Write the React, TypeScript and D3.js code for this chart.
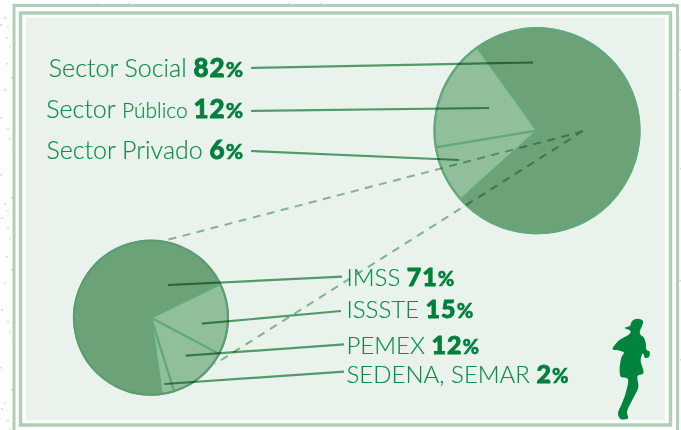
import * as d3 from "d3";
import React from "react";

const WIDTH = 681;
const HEIGHT = 430;

// labels printed on the chart
const sectorNames = ["Sector Social", "Sector Público", "Sector Privado"];
const sectorPercents = [82, 12, 6];
const institutionNames = ["IMSS", "ISSSTE", "PEMEX", "SEDENA, SEMAR"];
const institutionPercents = [71, 15, 12, 2];

// share of the circle each slice really takes in the picture
const sectorSlices = [73.2, 17.7, 9.1];
const institutionSlices = [70, 15, 12.4, 2.6];

// runner outline, traced at 3x
const runnerOutline: [number, number][] = [
  [104, 28], [118, 27], [129, 33], [127, 46], [121, 60], [120, 72], [131, 82], [137, 98], [140, 120],
  [149, 125], [146, 142], [135, 143], [129, 130], [122, 150], [130, 190], [113, 198], [115, 232],
  [98, 268], [81, 306], [84, 325], [62, 327], [54, 312], [66, 280], [78, 246], [83, 206], [63, 201],
  [59, 180], [65, 140], [72, 128], [60, 122], [38, 118], [50, 98], [68, 84], [85, 75], [92, 66],
  [88, 60], [74, 54], [90, 47], [95, 35],
];

// little grey flecks of the scan, outside the frame
const flecks: [number, number][] = [
  [97, 3], [128, 3], [288, 3], [320, 3], [672, 3], [4, 17], [0, 24], [7, 26], [6, 37], [9, 46], [6, 63],
  [11, 77], [4, 89], [0, 117], [7, 128], [9, 138], [12, 150], [0, 174], [11, 197], [4, 203], [7, 210],
  [1, 217], [7, 227], [9, 238], [6, 256], [11, 269], [4, 282], [1, 309], [7, 321], [9, 331], [12, 342],
  [13, 353], [0, 367], [11, 389], [4, 402], [1, 408], [7, 420], [9, 429], [679, 49], [679, 89], [680, 168],
  [679, 280], [680, 359],
];

const rad = (deg: number) => (deg * Math.PI) / 180;

const GREEN_TEXT = "#0f8c4a";
const GREEN_BOLD = "#007f3c";
const BIG_FILL = "#6ba277";
const LIGHT_FILL = "#92bf9b";
const SLICE_STROKE = "#62a87c";
const FRAME = "#aecfb3";

const labelFont = "Lato, 'Open Sans', sans-serif";

function Pie({ shares, cx, cy, r, start, end, edge }: { shares: number[]; cx: number; cy: number; r: number; start: number; end: number; edge: string }) {
  const slices = d3.pie<number>().sort(null).startAngle(rad(start)).endAngle(rad(end))(shares);
  const arc = d3.arc<d3.PieArcDatum<number>>().innerRadius(0).outerRadius(r);
  return (
    <g transform={`translate(${cx},${cy})`}>
      {slices.map((s, i) => (
        <path key={i} d={arc(s) ?? ""} fill={i === 0 ? BIG_FILL : LIGHT_FILL} stroke={SLICE_STROKE} strokeWidth={2.2} strokeLinejoin="round" />
      ))}
      <circle r={r} fill="none" stroke={edge} strokeWidth={2} />
    </g>
  );
}

function Label({ name, pct, x, y, anchor, size }: { name: string; pct: number; x: number; y: number; anchor: string; size: number }) {
  const bold = { fontWeight: 900, fill: GREEN_BOLD, stroke: GREEN_BOLD, strokeWidth: 0.8 };
  return (
    <text x={x} y={y} textAnchor={anchor} fontFamily={labelFont} fontSize={size} fill={GREEN_TEXT} fontWeight={300} stroke={GREEN_TEXT} strokeWidth={0.15}>
      {name.split(" ").map((w, i) => (
        <tspan key={i} fontSize={w === "Público" ? size - 4 : size}>{w + " "}</tspan>
      ))}
      <tspan {...bold} fontSize={size + 1} letterSpacing={1}>{pct}</tspan>
      <tspan {...bold} fontSize={size - 4} strokeWidth={0.5}>%</tspan>
    </text>
  );
}

export default function App() {
  const runnerPath = d3.line().curve(d3.curveCatmullRomClosed.alpha(0.5))(runnerOutline) ?? "";

  // leader lines, from the label to the slice
  const sectorLeaders = [
    [251, 68, 533, 62.5],
    [251, 111, 489, 108],
    [251, 151, 459, 160],
  ];
  const institutionLeaders = [
    [342, 276.7, 168, 285],
    [341, 311, 201.7, 323.7],
    [344, 344.3, 185.7, 355.7],
    [344, 371.7, 164.3, 384],
  ];
  const sectorBaselines = [77, 118, 159];
  const institutionBaselines = [285.7, 318, 353.7, 382.7];

  return (
    <svg width={WIDTH} height={HEIGHT} style={{ position: "absolute", left: 0, top: 0, background: "#fff" }}>
      {flecks.map(([x, y], i) => (
        <rect key={i} x={x} y={y} width={2} height={1.5} fill="#d9d9d9" />
      ))}

      {/* frame */}
      <path d={`M14,${HEIGHT} V5.5 H677.5 V${HEIGHT}`} fill="none" stroke={FRAME} strokeWidth={3} />
      <rect x={20.5} y={13} width={650} height={412} fill="none" stroke={FRAME} strokeWidth={3.5} />
      <rect x={26} y={17.5} width={639} height={402.5} fill="#e9f3ec" />

      <Pie shares={sectorSlices} cx={537} cy={130.7} r={102.5} start={227.9} end={227.9 - 360} edge="#62a87c" />
      <Pie shares={institutionSlices} cx={151} cy={317.7} r={77} start={172} end={172 + 360} edge="#5a9c6f" />

      {/* dashed links between the two pies */}
      <g fill="none" stroke="#8fbb9c" strokeWidth={2} strokeDasharray="8 6.5" style={{ mixBlendMode: "multiply" }}>
        <path d="M583,131 L573,134 L163,241" />
        <path d="M583,131 L215,364" />
      </g>

      {/* leaders */}
      <g stroke="#5aa174" strokeWidth={2.2} style={{ mixBlendMode: "multiply" }}>
        {sectorLeaders.concat(institutionLeaders).map((l, i) => (
          <line key={i} x1={l[0]} y1={l[1]} x2={l[2]} y2={l[3]} />
        ))}
      </g>

      {sectorNames.map((n, i) => (
        <Label key={n} name={n} pct={sectorPercents[i]} x={243} y={sectorBaselines[i]} anchor="end" size={25} />
      ))}
      {institutionNames.map((n, i) => (
        <Label key={n} name={n} pct={institutionPercents[i]} x={346.5} y={institutionBaselines[i]} anchor="start" size={24} />
      ))}

      <path d={runnerPath} transform="translate(600,310) scale(0.3333)" fill="#00843d" />
    </svg>
  );
}
